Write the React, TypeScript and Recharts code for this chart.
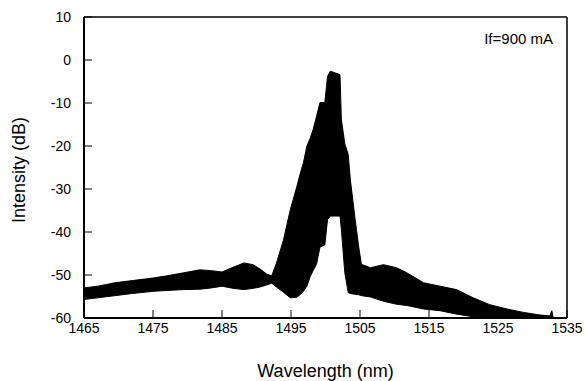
import {
    ComposedChart,
    Area,
    XAxis,
    YAxis,
    ReferenceLine,
} from "recharts";

// envelope of the spectrum
const wavelength = [
    1465.0, 1467.0, 1469.5, 1472.0, 1475.0, 1477.0, 1479.4, 1481.8, 1483.5, 1485.0,
    1486.6, 1488.2, 1489.5, 1490.5, 1491.5, 1492.2, 1492.9, 1493.9, 1494.9, 1495.8,
    1496.3, 1496.8, 1497.3, 1497.8, 1498.2, 1498.7, 1499.2, 1499.9, 1500.3, 1500.7,
    1501.4, 1502.1, 1502.3, 1502.8, 1503.3, 1503.6, 1504.3, 1504.8, 1505.2, 1506.5,
    1508.4, 1510.3, 1511.8, 1514.2, 1516.6, 1519.0, 1521.4, 1523.8, 1526.3, 1528.7,
    1531.1, 1532.5, 1532.8, 1533.0,
];
const upperDb = [
    -53.0, -52.6, -51.8, -51.3, -50.7, -50.2, -49.5, -48.8, -49.0, -49.3,
    -48.2, -47.2, -47.6, -48.6, -49.8, -50.2, -47.2, -41.9, -34.8, -29.7,
    -26.6, -23.9, -20.0, -18.1, -16.2, -13.1, -9.9, -9.9, -3.8, -2.6,
    -3.0, -3.4, -13.8, -19.5, -22.0, -27.8, -37.1, -43.3, -47.5, -48.3,
    -47.6, -48.3, -49.5, -51.8, -52.6, -53.4, -55.3, -56.9, -57.9, -58.7,
    -59.3, -59.5, -58.3, -60.0,
];
const lowerDb = [
    -55.7, -55.3, -54.8, -54.3, -53.8, -53.6, -53.4, -53.3, -53.0, -52.6,
    -53.1, -53.4, -53.1, -52.8, -52.3, -51.9, -52.8, -54.0, -55.3, -55.2,
    -54.6, -53.8, -52.6, -50.3, -49.0, -47.5, -43.5, -43.0, -37.1, -36.3,
    -36.3, -36.3, -39.4, -49.5, -54.1, -54.3, -54.5, -54.6, -54.8, -55.1,
    -56.1, -56.8, -57.1, -57.9, -58.3, -59.1, -59.7, -60.0, -60.0, -60.0,
    -60.0, -60.0, -60.0, -60.0,
];

const xTicks = [1465, 1475, 1485, 1495, 1505, 1515, 1525, 1535];
const yTicks = [-60, -50, -40, -30, -20, -10, 0, 10];

const data = wavelength.map((nm, i) => ({ nm, band: [lowerDb[i], upperDb[i]] }));

const font = "'Liberation Sans', Arial, sans-serif";

export default function App() {
    return (
        <div style={{ width: 585, height: 381, fontFamily: font }}>
            <style>{`body{margin:0}`}</style>
            <ComposedChart
                width={585}
                height={381}
                data={data}
                margin={{ top: 17, right: 18, left: 0, bottom: 0 }}
            >
                <XAxis
                    dataKey="nm"
                    type="number"
                    domain={[1465, 1535]}
                    ticks={xTicks}
                    allowDataOverflow
                    height={63}
                    axisLine={{ stroke: "#000", strokeWidth: 2 }}
                    tickLine={{ stroke: "#000", strokeWidth: 1 }}
                    tickSize={-8}
                    tickMargin={13}
                    tick={{ fill: "#000", fontSize: 14, fontFamily: font }}
                    label={{
                        content: () => (
                            <text x={325.5} y={377} textAnchor="middle" fontSize={18} fontFamily={font} fill="#000">
                                Wavelength (nm)
                            </text>
                        ),
                    }}
                />
                <YAxis
                    type="number"
                    domain={[-60, 10]}
                    ticks={yTicks}
                    allowDataOverflow
                    width={84}
                    axisLine={{ stroke: "#000", strokeWidth: 2 }}
                    tickLine={{ stroke: "#000", strokeWidth: 1 }}
                    tickSize={-8}
                    tickMargin={21}
                    tick={{ fill: "#000", fontSize: 14, fontFamily: font }}
                    label={{
                        content: () => (
                            <text
                                x={25}
                                y={170}
                                transform="rotate(-90 25 170)"
                                textAnchor="middle"
                                fontSize={18}
                                fontFamily={font}
                                fill="#000"
                            >
                                Intensity (dB)
                            </text>
                        ),
                    }}
                />

                {/* frame: top and right */}
                <ReferenceLine y={10} stroke="#000" strokeWidth={1.5} />
                <ReferenceLine
                    x={1535}
                    stroke="#000"
                    strokeWidth={1.5}
                    label={{
                        content: () => (
                            <text x={553} y={43.5} textAnchor="end" fontSize={15} fontFamily={font} fill="#000">
                                If=900 mA
                            </text>
                        ),
                    }}
                />

                <Area
                    dataKey="band"
                    type="linear"
                    stroke="#000"
                    strokeWidth={1}
                    fill="#000"
                    fillOpacity={1}
                    isAnimationActive={false}
                />
            </ComposedChart>
        </div>
    );
}
